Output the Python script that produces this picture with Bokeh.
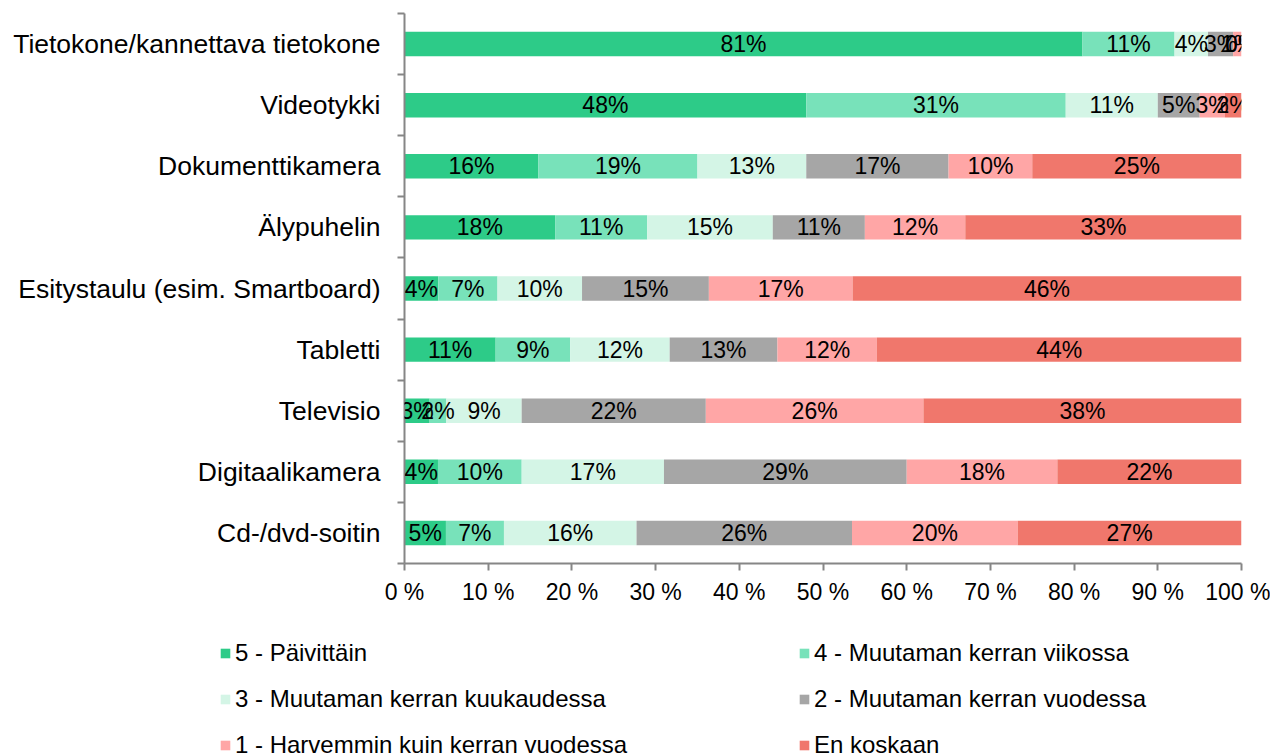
from bokeh.plotting import figure
from bokeh.layouts import column
from bokeh.models import ColumnDataSource, FixedTicker, Legend, LegendItem, Range1d, LabelSet
from bokeh.core.properties import value
from bokeh.embed import file_html
from bokeh.resources import INLINE

# ---------------- data ----------------
categories = [
    "Tietokone/kannettava tietokone",
    "Videotykki",
    "Dokumenttikamera",
    "Älypuhelin",
    "Esitystaulu (esim. Smartboard)",
    "Tabletti",
    "Televisio",
    "Digitaalikamera",
    "Cd-/dvd-soitin",
]
series_names = [
    "5 - Päivittäin",
    "4 - Muutaman kerran viikossa",
    "3 - Muutaman kerran kuukaudessa",
    "2 - Muutaman kerran vuodessa",
    "1 - Harvemmin kuin kerran vuodessa",
    "En koskaan",
]
paivittain = [81, 48, 16, 18, 4, 11, 3, 4, 5]
viikossa = [11, 31, 19, 11, 7, 9, 2, 10, 7]
kuukaudessa = [4, 11, 13, 15, 10, 12, 9, 17, 16]
vuodessa = [3, 5, 17, 11, 15, 13, 22, 29, 26]
harvemmin = [1, 3, 10, 12, 17, 12, 26, 18, 20]
en_koskaan = [0, 2, 25, 33, 46, 44, 38, 22, 27]
x_ticks = [0, 10, 20, 30, 40, 50, 60, 70, 80, 90, 100]
x_tick_labels = ["0 %", "10 %", "20 %", "30 %", "40 %", "50 %", "60 %", "70 %", "80 %", "90 %", "100 %"]

colors = ["#2DCB88", "#78E2BA", "#D4F5E6", "#A6A6A6", "#FFA6A6", "#F0776C"]
FONT = "Liberation Sans"

series = [paivittain, viikossa, kuukaudessa, vuodessa, harvemmin, en_koskaan]
n = len(categories)
ys = [n - 1 - i for i in range(n)]
totals = [sum(s[i] for s in series) for i in range(n)]

p = figure(width=1270, height=610, output_backend="svg", toolbar_location=None,
           x_range=Range1d(0, 100), y_range=Range1d(-0.5, n - 0.5),
           min_border_left=404, min_border_right=29, min_border_top=13, min_border_bottom=47)
p.frame_align = False
p.outline_line_color = None
p.xgrid.visible = False
p.ygrid.visible = False
p.background_fill_color = "white"
p.border_fill_color = "white"

cum = [0.0] * n
for k, s in enumerate(series):
    left = cum[:]
    right = [cum[i] + s[i] * 100.0 / totals[i] for i in range(n)]
    mid = [(left[i] + right[i]) / 2 for i in range(n)]
    src = ColumnDataSource(dict(y=ys, left=left, right=right, mid=mid,
                                label=[f"{v}%" for v in s]))
    p.hbar(y="y", left="left", right="right", height=0.4, source=src,
           fill_color=colors[k], line_color=None)
    lbl = LabelSet(x="mid", y="y", text="label", source=src, text_align="center",
                   text_baseline="middle", text_font=value(FONT), text_font_size="23px",
                   text_color="black")
    p.add_layout(lbl)
    cum = right

# y axis
ya = p.yaxis[0]
ya.ticker = FixedTicker(ticks=ys, minor_ticks=[v - 0.5 for v in range(n + 1)])
ya.major_label_overrides = {ys[i]: categories[i] for i in range(n)}
ya.major_tick_line_color = None
ya.major_tick_out = 0
ya.major_tick_in = 0
ya.minor_tick_line_color = "#868686"
ya.minor_tick_out = 7
ya.minor_tick_in = 0
ya.minor_tick_line_width = 2
ya.axis_line_color = "#868686"
ya.axis_line_width = 2
ya.major_label_standoff = 17
ya.major_label_text_font = FONT
ya.major_label_text_font_size = "26.5px"
ya.major_label_text_color = "black"

# x axis
xa = p.xaxis[0]
xa.ticker = FixedTicker(ticks=x_ticks, minor_ticks=[])
xa.major_label_overrides = {x_ticks[i]: x_tick_labels[i] for i in range(len(x_ticks))}
xa.major_tick_line_color = "#868686"
xa.major_tick_line_width = 2
xa.major_tick_out = 7
xa.major_tick_in = 0
xa.axis_line_color = "#868686"
xa.axis_line_width = 2
xa.major_label_standoff = 8
xa.major_label_text_font = FONT
xa.major_label_text_font_size = "23px"
xa.major_label_text_color = "black"

# ---------------- legend (separate strip below the chart) ----------------
lg = figure(width=1270, height=146, output_backend="svg", toolbar_location=None,
            x_range=Range1d(0, 1), y_range=Range1d(0, 1),
            x_axis_location=None, y_axis_location=None,
            min_border_left=0, min_border_right=0, min_border_top=0, min_border_bottom=0)
lg.frame_align = False
lg.outline_line_color = None
lg.border_fill_color = "white"
lg.background_fill_color = "white"
lg.xgrid.visible = False
lg.ygrid.visible = False
items = []
for k in range(len(series_names)):
    # swatch-only renderers (zero-width bar far outside the visible range)
    r = lg.hbar(y=[-50], left=[0], right=[0], height=0.1, fill_color=colors[k], line_color=None)
    items.append(LegendItem(label=series_names[k], renderers=[r]))

legend = Legend(items=items, orientation="horizontal", ncols=2,
                location=(219, -3), padding=0, margin=0,
                border_line_color=None, background_fill_alpha=0,
                glyph_width=12, glyph_height=12, label_standoff=4,
                spacing=18, label_width=545,
                label_text_font=FONT, label_text_font_size="24px",
                label_text_color="black")
lg.add_layout(legend, "center")

layout = column(p, lg, spacing=0)
open("out.html", "w").write(file_html(layout, INLINE))
